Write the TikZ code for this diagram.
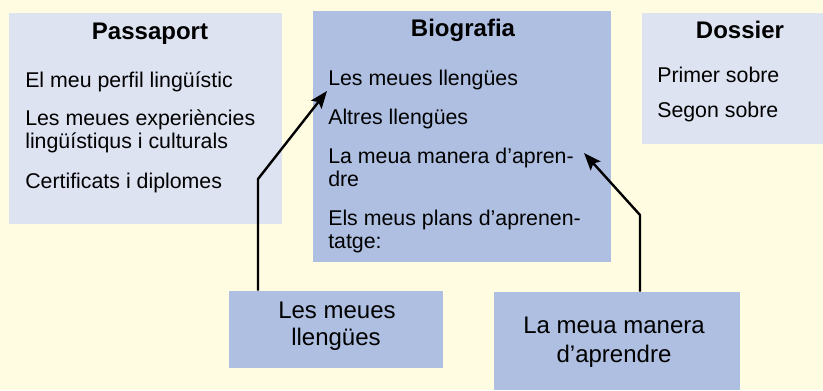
\documentclass[tikz,border=0pt]{standalone}
\usepackage{fontspec}
\setmainfont{Liberation Sans}
\usetikzlibrary{arrows.meta,fit}
\definecolor{bg}{RGB}{255,252,226}
\definecolor{lightbox}{RGB}{222,227,242}
\definecolor{midbox}{RGB}{174,191,225}
\begin{document}
\begin{tikzpicture}[x=0.75pt,y=-0.75pt,
  txt/.style={inner sep=0pt, anchor=base west, font=\fontsize{16}{19}\selectfont},
  ttl/.style={inner sep=0pt, anchor=base, font=\fontsize{18}{21}\selectfont\bfseries},
  ctr/.style={inner sep=0pt, anchor=base, font=\fontsize{18}{21}\selectfont},
  lbox/.style={fill=lightbox, inner sep=0pt},
  mbox/.style={fill=midbox, inner sep=0pt},
  arr/.style={line width=1.8pt, -{Stealth[length=13pt,width=10pt,inset=2.5pt]}}]
\fill[bg] (0,0) rectangle (823,390);
\useasboundingbox (0,0) rectangle (823,390);
% boxes
\node[lbox, fit={(9,13) (282,224)}] (pass) {};
\node[mbox, fit={(313,11) (611,262)}] (bio) {};
\node[lbox, fit={(642,13) (823,144)}] (dos) {};
\node[mbox, fit={(229,291) (443,368)}] (bl) {};
\node[mbox, fit={(494,292) (740,390)}] (br) {};
% Passaport
\node[ttl] (pt) at (150,39) {Passaport};
\node[txt] (p1) at (25,87) {El meu perfil lingüístic};
\node[txt] (p2a) at (25,125) {Les meues experiències};
\node[txt] (p2b) at (25,148) {lingüístiqus i culturals};
\node[txt] (p3) at (25,188) {Certificats i diplomes};
% Biografia
\node[ttl] (bt) at (463,36) {Biografia};
\node[txt] (b1) at (328,85) {Les meues llengües};
\node[txt] (b2) at (328,124) {Altres llengües};
\node[txt] (b3a) at (328,163) {La meua manera d’apren-};
\node[txt] (b3b) at (328,186) {dre};
\node[txt] (b4a) at (328,225) {Els meus plans d’aprenen-};
\node[txt] (b4b) at (328,248) {tatge:};
% Dossier
\node[ttl] (dt) at (740,38) {Dossier};
\node[txt] (d1) at (657,82) {Primer sobre};
\node[txt] (d2) at (657,117) {Segon sobre};
% bottom boxes text
\node[ctr] (bl1) at (337,318) {Les meues};
\node[ctr] (bl2) at (336,345) {llengües};
\node[ctr] (br1) at (614,333) {La meua manera};
\node[ctr] (br2) at (614,362) {d’aprendre};
% connectors
\coordinate (c1) at (258,179);
\coordinate (t1) at (327,91);
\coordinate (c2) at (640,215);
\coordinate (t2) at (584,153);
\draw[arr] (bl.north -| c1) -- (c1) -- (t1);
\draw[arr] (br.north -| c2) -- (c2) -- (t2);
\end{tikzpicture}
\end{document}
